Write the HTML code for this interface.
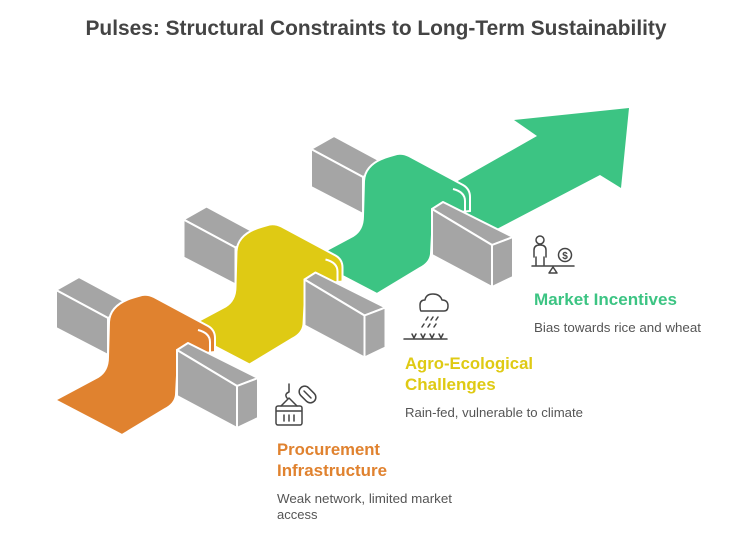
<!DOCTYPE html>
<html><head><meta charset="utf-8"><style>
html,body{margin:0;padding:0;background:#fff;}
svg{display:block;}
text{font-family:"Liberation Sans",sans-serif;}
</style></head><body>
<svg width="752" height="544" viewBox="0 0 752 544" xmlns="http://www.w3.org/2000/svg">
<defs>
<g id="backblk">
<polygon points="56,290 79,277 131,305 108,318" fill="#a5a5a5" stroke="#fff" stroke-width="2" stroke-linejoin="round"/>
<polygon points="56,290 108,318 108,355 56,328" fill="#a5a5a5" stroke="#fff" stroke-width="2" stroke-linejoin="round"/>
</g>
<g id="frontblk">
<polygon points="177,350 188,343 258,378 237,386" fill="#a5a5a5" stroke="#fff" stroke-width="2" stroke-linejoin="round"/>
<polygon points="177,350 237,386 237,428 177,396" fill="#a5a5a5" stroke="#fff" stroke-width="2" stroke-linejoin="round"/>
<polygon points="237,386 258,378 258,418 237,428" fill="#a5a5a5" stroke="#fff" stroke-width="2" stroke-linejoin="round"/>
</g>
<path id="rib" d="M55,400 L98,377 Q108,371 108,357 L109,322 Q110,304 135,297 L142,295 Q148,294 154,297 L208,326 Q215,330 215,338 L215,352 L178,356 L176,395 Q175,404 165,409 L122,435 Z"/>
</defs>

<text x="376" y="35" text-anchor="middle" font-size="21" font-weight="bold" fill="#444" textLength="581" lengthAdjust="spacingAndGlyphs">Pulses: Structural Constraints to Long-Term Sustainability</text>

<polygon points="440,191 537,136 514,120 629,108 621,188 600,175 470,243" fill="#3cc483"/>

<g transform="translate(255,-141)">
<use href="#backblk"/>
<use href="#rib" fill="#3cc483" stroke="#fff" stroke-width="2"/>
<path d="M198,330 Q210,333 210,342 L210,354" fill="none" stroke="#fff" stroke-width="2"/>
<use href="#frontblk"/>
</g>
<g transform="translate(127.5,-70.5)">
<use href="#backblk"/>
<use href="#rib" fill="#dfca14" stroke="#fff" stroke-width="2"/>
<path d="M198,330 Q210,333 210,342 L210,354" fill="none" stroke="#fff" stroke-width="2"/>
<use href="#frontblk"/>
</g>
<g>
<use href="#backblk"/>
<use href="#rib" fill="#e0822f" stroke="#fff" stroke-width="2"/>
<path d="M198,330 Q210,333 210,342 L210,354" fill="none" stroke="#fff" stroke-width="2"/>
<use href="#frontblk"/>
</g>

<g fill="none" stroke="#444" stroke-width="1.5" stroke-linecap="round" stroke-linejoin="round">
<circle cx="540" cy="240" r="4"/>
<path d="M534,257 L534,250 Q534,245 540,245 Q546,245 546,250 L546,257 M536,257 L536,265 M544,257 L544,265"/>
<circle cx="565" cy="255" r="6.5"/>
<path d="M532,266 L574,266 M549,273 L553,267 L557,273 Z"/>
<path d="M421,311 L444,311 Q448,311 448,306 Q448,300 442,300 Q440,294 433,294 Q426,294 425,300 Q420,300 420,305 Q420,311 421,311"/>
<path d="M428,317 L426,320 M433,317 L431,320 M438,317 L436,320 M424,324 L422,327 M430,324 L428,327 M436,324 L434,327"/>
<path d="M404,339 L447,339 M412,334 L414,338 L416,334 M421,334 L423,338 L425,334 M430,334 L432,338 L434,334 M439,334 L441,338 L443,334"/>
<path d="M289,384 L289,392 Q284,394 287,398 M289,398 L281,406 M289,398 L297,406"/>
<rect x="276" y="406" width="26" height="19" rx="2"/>
<path d="M277,411 L301,411 M284,415 L284,421 M289,415 L289,421 M294,415 L294,421"/>
<rect x="302" y="385" width="11" height="19" rx="5.5" transform="rotate(-45 307.5 394.5)"/>
<path d="M304,391 L311,398"/>
</g>
<text x="565" y="259" text-anchor="middle" font-size="10" font-weight="bold" fill="#444">$</text>

<text x="534" y="305" font-size="17" font-weight="bold" fill="#3cc483" textLength="143" lengthAdjust="spacingAndGlyphs">Market Incentives</text>
<text x="534" y="332" font-size="13" fill="#555" textLength="167" lengthAdjust="spacingAndGlyphs">Bias towards rice and wheat</text>

<text x="405" y="369" font-size="17" font-weight="bold" fill="#dfca14" textLength="128" lengthAdjust="spacingAndGlyphs">Agro-Ecological</text>
<text x="405" y="390" font-size="17" font-weight="bold" fill="#dfca14">Challenges</text>
<text x="405" y="417" font-size="13" fill="#555" textLength="178" lengthAdjust="spacingAndGlyphs">Rain-fed, vulnerable to climate</text>

<text x="277" y="455" font-size="17" font-weight="bold" fill="#e0822f" textLength="103" lengthAdjust="spacingAndGlyphs">Procurement</text>
<text x="277" y="476" font-size="17" font-weight="bold" fill="#e0822f" textLength="110" lengthAdjust="spacingAndGlyphs">Infrastructure</text>
<text x="277" y="503" font-size="13" fill="#555" textLength="175" lengthAdjust="spacingAndGlyphs">Weak network, limited market</text>
<text x="277" y="519" font-size="13" fill="#555">access</text>
</svg>
</body></html>
